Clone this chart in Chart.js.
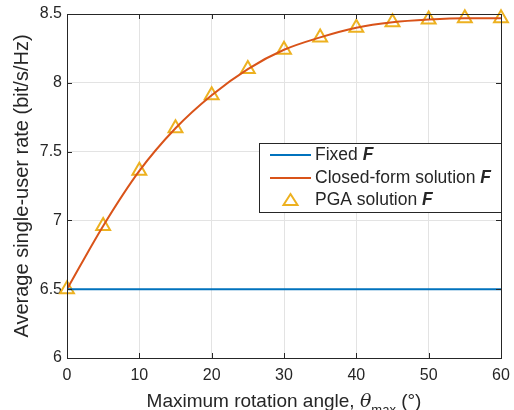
<!DOCTYPE html>
<html lang="en">
<head>
    <meta charset="UTF-8">
    <title>Single-user rate vs maximum rotation angle</title>
    <script src="https://cdn.jsdelivr.net/npm/chart.js"></script>
    <style>
        html, body { margin: 0; padding: 0; background: #fff; }
        #wrap { width: 514px; height: 410px; }
    </style>
</head>
<body>
    <div id="wrap"><canvas id="myChart" width="514" height="410"></canvas></div>
    <script>
        // data
        const angles = [0, 5, 10, 15, 20, 25, 30, 35, 40, 45, 50, 55, 60];
        const fixedRate = [6.5, 6.5, 6.5, 6.5, 6.5, 6.5, 6.5, 6.5, 6.5, 6.5, 6.5, 6.5, 6.5];
        const closedFormRate = [6.5, 6.96, 7.36, 7.67, 7.91, 8.10, 8.24, 8.33, 8.40, 8.44, 8.46, 8.47, 8.47];
        const pgaRate = [6.5, 6.96, 7.36, 7.67, 7.91, 8.10, 8.24, 8.33, 8.40, 8.44, 8.46, 8.47, 8.47];
        const xTicks = [0, 10, 20, 30, 40, 50, 60];
        const yTicks = [6, 6.5, 7, 7.5, 8, 8.5];
        const seriesNames = ['Fixed ', 'Closed-form solution ', 'PGA solution '];

        const BLUE = '#0072BD', ORANGE = '#D95319', YELLOW = '#EDB120', INK = '#262626';
        const FONT = '"Liberation Sans", Arial, Helvetica, sans-serif';

        const toXY = (ys) => angles.map((a, i) => ({ x: a, y: ys[i] }));

        const boxPlugin = {
            id: 'matlabBox',
            afterDraw(chart) {
                const ctx = chart.ctx;
                const a = chart.chartArea;
                const xs = chart.scales.x, ys = chart.scales.y;
                ctx.save();
                ctx.strokeStyle = INK;
                ctx.lineWidth = 1;
                // inward ticks
                ctx.beginPath();
                xTicks.forEach(v => {
                    const px = Math.round(xs.getPixelForValue(v)) + 0.5;
                    ctx.moveTo(px, a.bottom); ctx.lineTo(px, a.bottom - 5);
                    ctx.moveTo(px, a.top); ctx.lineTo(px, a.top + 5);
                });
                yTicks.forEach(v => {
                    const py = Math.round(ys.getPixelForValue(v)) + 0.5;
                    ctx.moveTo(a.left, py); ctx.lineTo(a.left + 5, py);
                    ctx.moveTo(a.right, py); ctx.lineTo(a.right - 5, py);
                });
                ctx.stroke();
                ctx.strokeRect(Math.round(a.left) + 0.5, Math.round(a.top) + 0.5,
                    Math.round(a.right - a.left), Math.round(a.bottom - a.top));

                // x title with subscript
                ctx.fillStyle = INK;
                ctx.textBaseline = 'alphabetic';
                const parts = [
                    { t: 'Maximum rotation angle, ', f: '19px ' + FONT, dy: 0 },
                    { t: '\u03B8', f: 'italic 19px "DejaVu Serif", "Liberation Serif", serif', dy: 0 },
                    { t: 'max', f: '13px ' + FONT, dy: 7 },
                    { t: ' (\u00B0)', f: '19px ' + FONT, dy: 0 }
                ];
                let total = 0;
                parts.forEach(p => { ctx.font = p.f; p.w = ctx.measureText(p.t).width; total += p.w; });
                let cx = (a.left + a.right) / 2 - total / 2;
                const base = a.bottom + 49;
                ctx.textAlign = 'left';
                parts.forEach(p => { ctx.font = p.f; ctx.fillText(p.t, cx, base + p.dy); cx += p.w; });

                // y title
                ctx.save();
                ctx.translate(22, (a.top + a.bottom) / 2);
                ctx.rotate(-Math.PI / 2);
                ctx.textAlign = 'center';
                ctx.textBaseline = 'middle';
                ctx.font = '20px ' + FONT;
                ctx.fillText('Average single-user rate (bit/s/Hz)', 0, 0);
                ctx.restore();

                // legend box
                const lx = 259, ly = 143, lw = a.right - lx, lh = 69;
                ctx.fillStyle = '#fff';
                ctx.fillRect(lx, ly, lw, lh);
                ctx.strokeStyle = INK;
                ctx.strokeRect(lx + 0.5, ly + 0.5, lw, lh);
                const rows = [155, 178, 200];
                chart.data.datasets.forEach((ds, i) => {
                    const y = rows[i];
                    if (ds.showLine === false) {
                        ctx.beginPath();
                        ctx.moveTo(290.5, y - 6); ctx.lineTo(297.5, y + 5); ctx.lineTo(283.5, y + 5); ctx.closePath();
                        ctx.strokeStyle = YELLOW; ctx.lineWidth = 2; ctx.stroke();
                    } else {
                        ctx.beginPath();
                        ctx.moveTo(270, y); ctx.lineTo(311, y);
                        ctx.strokeStyle = ds.borderColor; ctx.lineWidth = 2; ctx.stroke();
                    }
                    ctx.fillStyle = INK;
                    ctx.textAlign = 'left';
                    ctx.textBaseline = 'middle';
                    ctx.font = '17.5px ' + FONT;
                    ctx.fillText(seriesNames[i], 315, y);
                    const w = ctx.measureText(seriesNames[i]).width;
                    ctx.font = 'italic bold 17.5px ' + FONT;
                    ctx.fillText('F', 315 + w, y);
                });
                ctx.restore();
            }
        };

        const ctx = document.getElementById('myChart').getContext('2d');
        new Chart(ctx, {
            type: 'line',
            data: {
                datasets: [{
                    label: 'Fixed F',
                    data: toXY(fixedRate),
                    borderColor: BLUE,
                    borderWidth: 2,
                    pointRadius: 0
                }, {
                    label: 'Closed-form solution F',
                    data: toXY(closedFormRate),
                    borderColor: ORANGE,
                    borderWidth: 2,
                    pointRadius: 0,
                    cubicInterpolationMode: 'monotone'
                }, {
                    label: 'PGA solution F',
                    data: toXY(pgaRate),
                    showLine: false,
                    borderColor: YELLOW,
                    backgroundColor: 'rgba(0,0,0,0)',
                    pointStyle: 'triangle',
                    pointRadius: 8,
                    pointBorderWidth: 2,
                    clip: false
                }]
            },
            options: {
                responsive: false,
                animation: false,
                events: [],
                layout: { padding: { left: 0, right: 13, top: 14, bottom: 0 } },
                plugins: { legend: { display: false }, tooltip: { enabled: false } },
                scales: {
                    x: {
                        type: 'linear',
                        min: 0, max: 60,
                        afterBuildTicks: s => { s.ticks = xTicks.map(v => ({ value: v })); },
                        afterFit: s => { s.height = 52; s.paddingLeft = 0; s.paddingRight = 0; },
                        grid: { color: '#e3e3e3', drawTicks: false },
                        border: { display: false },
                        ticks: { color: INK, padding: 8, maxRotation: 0, font: { size: 16, family: FONT } }
                    },
                    y: {
                        min: 6, max: 8.5,
                        afterBuildTicks: s => { s.ticks = yTicks.map(v => ({ value: v })); },
                        afterFit: s => { s.width = 67; s.paddingTop = 0; s.paddingBottom = 0; },
                        grid: { color: '#e3e3e3', drawTicks: false },
                        border: { display: false },
                        ticks: { color: INK, padding: 5, font: { size: 16, family: FONT }, callback: v => String(v) }
                    }
                }
            },
            plugins: [boxPlugin]
        });
    </script>
</body>
</html>
